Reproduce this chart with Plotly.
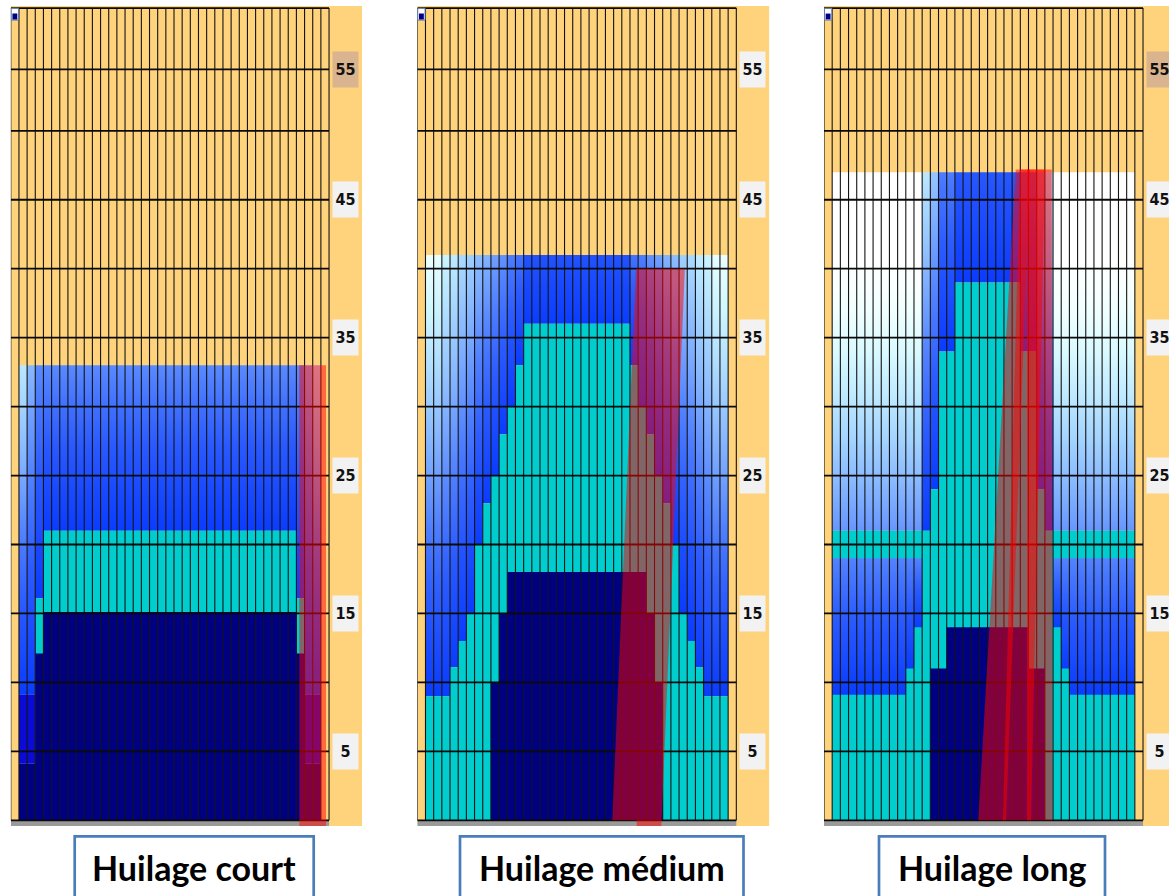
import plotly.graph_objects as go

# ------------------------------------------------------------------ data
PANEL_TITLES = ["Huilage court", "Huilage médium", "Huilage long"]
N_GRID_COLS = 39                      # lane columns (0 and 38 are the gutters)
DIST_MARKS = [5, 10, 15, 20, 25, 30, 35, 40, 45, 50, 54.45]
LANE_TOP_FT = 58.9
LABEL_FT = [5, 15, 25, 35, 45, 54.45]
LABEL_TEXT = ["5", "15", "25", "35", "45", "55"]

# --- Huilage court (boards 1..37)
court_oil_end = 33.0
court_shade_top = [0.72, 0.53] + [0.38] * 33 + [0.53, 0.72]
court_shade_bottom = [0.0] * 37
court_shade_floor = [9.1, 9.1, 16.1] + [21.0] * 31 + [16.1, 9.1, 9.1]
court_turq_top = [0, 0, 16.1] + [21.0] * 31 + [16.1, 0, 0]
court_navy_top = [4.1, 4.1, 12.1] + [15.1] * 31 + [12.1, 4.1, 4.1]
court_deep_bottom = [4.1, 4.1] + [None] * 33 + [4.1, 4.1]
court_deep_top = [9.1, 9.1] + [None] * 33 + [9.1, 9.1]
court_red_x = [[35.36, 38.63, 38.63, 35.36]]
court_red_y = [[33.0, 33.0, -0.45, -0.45]]

# --- Huilage médium
med_oil_end = 41.0
med_shade_top = ([0.91, 0.89, 0.78, 0.74, 0.66, 0.62, 0.55, 0.51, 0.45, 0.41, 0.34, 0.30]
                 + [0.15] * 13
                 + [0.30, 0.34, 0.41, 0.45, 0.51, 0.55, 0.62, 0.66, 0.74, 0.78, 0.89, 0.91])
med_shade_bottom = [0.0] * 37
med_turq_top = ([9, 9, 9, 11.1, 13, 15, 20, 23, 25, 28, 30, 33] + [36] * 13
                + [33, 30, 28, 25, 23, 20, 15, 13, 11.1, 9, 9, 9])
med_shade_floor = list(med_turq_top)
med_navy_top = [0] * 8 + [10, 15] + [18] * 17 + [15, 10] + [0] * 8
med_red_x = [[26.74, 32.71, 29.83, 26.82, 26.82, 23.84]]
med_red_y = [[40.0, 40.0, -0.41, -0.41, 0.0, 0.0]]

# --- Huilage long
long_oil_end = 47.0
long_turq_top = [21] * 11 + [21, 24, 34, 34] + [39] * 8 + [34, 34, 24, 21] + [21] * 10
long_shade_floor = list(long_turq_top)
long_shade_top = [1.25] * 11 + [0.72, 0.58, 0.34, 0.34] + [0.18] * 8 + [0.34, 0.34, 0.58, 0.72] + [1.25] * 10
long_shade_bottom = [0.42] * 11 + [0.0] * 16 + [0.42] * 10
long_navy_top = [0] * 12 + [11, 11] + [14] * 10 + [11, 11] + [0] * 11
long_low_bottom = [9.1] * 9 + [11, 14] + [None] * 16 + [14, 11] + [9.1] * 8
long_low_top = 19.0
long_red_x = [[23.44, 25.18, 22.25, 18.86],
              [23.96, 27.02, 25.31, 21.88],
              [24.82, 27.84, 27.93, 24.82]]
long_red_y = [[47.2, 47.2, 0.0, 0.0],
              [47.2, 47.2, 0.0, 0.0],
              [47.2, 47.2, 0.0, 0.0]]

# ------------------------------------------------------------------ styles
W, H = 1169, 896
ORANGE = "#ffd37c"
TURQ = "#00cdcd"
NAVY = "#000083"
DEEP = "#0b0bd6"
RED = "rgba(255,0,0,0.5)"
PANEL_LEFT_PX = [10.8, 417.3, 824.0]
COL_PX = [8.16, 8.18, 8.18]
LABEL_COLS = 4.04
Y_RANGE = [-0.413, 59.05]
Y_DOMAIN = [1 - 826 / H, 1 - 6 / H]
TOP55_FILL = ["#d9b48e", "#f2f2f2", "#d9b48e"]
BOX_PX = [(74.7, 313.7), (460.0, 743.5), (879.0, 1105.0)]

STOPS = [(0.0, (10, 60, 255)), (0.2, (42, 90, 255)), (0.35, (80, 128, 255)),
         (0.5, (128, 176, 255)), (0.65, (168, 216, 255)), (0.8, (208, 248, 255)),
         (0.9, (234, 255, 255)), (1.0, (255, 255, 255))]


def blue(v):
    v = max(0.0, min(1.0, v))
    for (a, ca), (b, cb) in zip(STOPS[:-1], STOPS[1:]):
        if v <= b:
            t = (v - a) / (b - a)
            return "rgb(%d,%d,%d)" % tuple(round(ca[i] + (cb[i] - ca[i]) * t) for i in range(3))
    return "rgb(255,255,255)"


def grad_scale(vb, vt, n=9):
    return [[i / (n - 1), blue(vb + (vt - vb) * i / (n - 1))] for i in range(n)]


panels = [
    dict(oil=court_oil_end, stop=court_shade_top, sbot=court_shade_bottom, floor=court_shade_floor,
         turq=court_turq_top, navy=court_navy_top, deep=(court_deep_bottom, court_deep_top),
         low=None, red=(court_red_x, court_red_y)),
    dict(oil=med_oil_end, stop=med_shade_top, sbot=med_shade_bottom, floor=med_shade_floor,
         turq=med_turq_top, navy=med_navy_top, deep=None, low=None, red=(med_red_x, med_red_y)),
    dict(oil=long_oil_end, stop=long_shade_top, sbot=long_shade_bottom, floor=long_shade_floor,
         turq=long_turq_top, navy=long_navy_top, deep=None, low=(long_low_bottom, long_low_top),
         red=(long_red_x, long_red_y)),
]

fig = go.Figure()
shapes, annotations = [], []


def runs(cols):
    """split sorted column list into contiguous runs"""
    out = []
    for c in cols:
        if out and out[-1][1] == c:
            out[-1][1] = c + 1
        else:
            out.append([c, c + 1])
    return out


def rect_path(cols, bottoms, tops):
    xs, ys = [], []
    for c in cols:
        xs += [c, c + 1, c + 1, c, c, None]
        ys += [bottoms[c], bottoms[c], tops[c], tops[c], bottoms[c], None]
    return xs, ys


for k, p in enumerate(panels):
    xa = "x" if k == 0 else "x%d" % (k + 1)
    left, w = PANEL_LEFT_PX[k], COL_PX[k]
    right_px = min(W, left + (N_GRID_COLS + LABEL_COLS) * w)
    xmax = (right_px - left) / w
    fig.update_layout(**{("xaxis" if k == 0 else "xaxis%d" % (k + 1)): dict(
        domain=[left / W, right_px / W], range=[0, xmax], visible=False,
        fixedrange=True, anchor="y")})

    cols = list(range(1, 38))
    idx = {c: c - 1 for c in cols}

    # background (orange lane + label strip) and grey foul bar
    shapes.append(dict(type="rect", xref=xa, yref="y", x0=0, x1=xmax, y0=Y_RANGE[0], y1=Y_RANGE[1],
                       fillcolor=ORANGE, line=dict(width=0), layer="below"))
    shapes.append(dict(type="rect", xref=xa, yref="y", x0=0, x1=N_GRID_COLS, y0=Y_RANGE[0], y1=0,
                       fillcolor="#9a9a9a", line=dict(width=0), layer="below"))

    # base oil gradient (grouped by identical parameters)
    groups = {}
    for c in cols:
        i = idx[c]
        key = (p["floor"][i], p["oil"], p["sbot"][i], p["stop"][i])
        groups.setdefault(key, []).append(c)
    for (fl, top, vb, vt), cl in groups.items():
        xs, ys = [], []
        for a, b in runs(cl):
            xs += [a, b, b, a, a, None]
            ys += [fl, fl, top, top, fl, None]
        fig.add_trace(go.Scatter(x=xs, y=ys, xaxis=xa, yaxis="y", mode="lines", line=dict(width=0),
                                 fill="toself", fillgradient=dict(type="vertical", colorscale=grad_scale(vb, vt),
                                                                  start=fl, stop=top),
                                 hoverinfo="skip", showlegend=False))

    # turquoise
    tc = [c for c in cols if p["turq"][idx[c]] > 0]
    xs, ys = rect_path(tc, {c: 0 for c in tc}, {c: p["turq"][idx[c]] for c in tc})
    fig.add_trace(go.Scatter(x=xs, y=ys, xaxis=xa, yaxis="y", mode="lines", line=dict(width=0),
                             fill="toself", fillcolor=TURQ, hoverinfo="skip", showlegend=False))

    # lower blue band (long pattern)
    if p["low"] is not None:
        lb, lt = p["low"]
        lg = {}
        for c in cols:
            b = lb[idx[c]]
            if b is not None:
                lg.setdefault(b, []).append(c)
        for b, cl in lg.items():
            xs, ys = [], []
            for a, e in runs(cl):
                xs += [a, e, e, a, a, None]
                ys += [b, b, lt, lt, b, None]
            fig.add_trace(go.Scatter(x=xs, y=ys, xaxis=xa, yaxis="y", mode="lines", line=dict(width=0),
                                     fill="toself", fillgradient=dict(type="vertical",
                                                                      colorscale=grad_scale(0.0, 0.36),
                                                                      start=b, stop=lt),
                                     hoverinfo="skip", showlegend=False))

    # navy
    nc = [c for c in cols if p["navy"][idx[c]] > 0]
    xs, ys = rect_path(nc, {c: 0 for c in nc}, {c: p["navy"][idx[c]] for c in nc})
    fig.add_trace(go.Scatter(x=xs, y=ys, xaxis=xa, yaxis="y", mode="lines", line=dict(width=0),
                             fill="toself", fillcolor=NAVY, hoverinfo="skip", showlegend=False))

    # deep blue band (court pattern)
    if p["deep"] is not None:
        db, dt = p["deep"]
        dc = [c for c in cols if db[idx[c]] is not None]
        xs, ys = rect_path(dc, {c: db[idx[c]] for c in dc}, {c: dt[idx[c]] for c in dc})
        fig.add_trace(go.Scatter(x=xs, y=ys, xaxis=xa, yaxis="y", mode="lines", line=dict(width=0),
                                 fill="toself", fillcolor=DEEP, hoverinfo="skip", showlegend=False))

    # grid
    gx, gy = [], []
    for c in range(N_GRID_COLS + 1):
        gx += [c, c, None]
        gy += [0, LANE_TOP_FT, None]
    fig.add_trace(go.Scatter(x=gx, y=gy, xaxis=xa, yaxis="y", mode="lines",
                             line=dict(color="#141414", width=1.1), hoverinfo="skip", showlegend=False))
    hx, hy = [], []
    for d in DIST_MARKS + [0, LANE_TOP_FT]:
        hx += [0, N_GRID_COLS, None]
        hy += [d, d, None]
    fig.add_trace(go.Scatter(x=hx, y=hy, xaxis=xa, yaxis="y", mode="lines",
                             line=dict(color="#0a0a0a", width=1.8), hoverinfo="skip", showlegend=False))

    # small marker at the top-left corner
    shapes.append(dict(type="rect", xref=xa, yref="y", x0=0.05, x1=0.95, y0=58.03, y1=58.88,
                       fillcolor="white", line=dict(color="#5a78b0", width=1), layer="above"))
    shapes.append(dict(type="rect", xref=xa, yref="y", x0=0.2, x1=0.8, y0=58.08, y1=58.5,
                       fillcolor=NAVY, line=dict(width=0), layer="above"))

    # red ball-path overlays
    rx, ry = p["red"]
    for px_, py_ in zip(rx, ry):
        path = "M " + " L ".join("%g,%g" % (a, b) for a, b in zip(px_, py_)) + " Z"
        shapes.append(dict(type="path", xref=xa, yref="y", path=path, fillcolor=RED,
                           line=dict(width=0), layer="above"))

    # distance labels
    for ft, txt in zip(LABEL_FT, LABEL_TEXT):
        annotations.append(dict(xref=xa, yref="y", x=41.0, y=ft, text=txt, showarrow=False,
                                bgcolor=(TOP55_FILL[k] if txt == "55" else "#f2f2f2"),
                                width=25, height=35, borderpad=0,
                                font=dict(family="Liberation Sans Narrow, Arial Narrow, DejaVu Sans Condensed, sans-serif",
                                          size=16, color="#111111", weight="bold")))

    # caption box
    bx0, bx1 = BOX_PX[k]
    shapes.append(dict(type="rect", xref="paper", yref="paper", x0=bx0 / W, x1=bx1 / W,
                       y0=1 - 906 / H, y1=1 - 836.3 / H, fillcolor="white",
                       line=dict(color="#4a7ebb", width=2.7), layer="above"))
    annotations.append(dict(xref="paper", yref="paper", x=(bx0 + bx1) / 2 / W, y=1 - 867 / H,
                            text=PANEL_TITLES[k], showarrow=False, xanchor="center", yanchor="middle",
                            font=dict(family="Lato, Carlito, Open Sans, sans-serif", size=34,
                                      color="black", weight="bold")))

fig.update_layout(
    width=W, height=H, margin=dict(l=0, r=0, t=0, b=0),
    paper_bgcolor="white", plot_bgcolor="rgba(0,0,0,0)", showlegend=False,
    yaxis=dict(domain=Y_DOMAIN, range=Y_RANGE, visible=False, fixedrange=True, anchor="x"),
    shapes=shapes, annotations=annotations,
)

fig.write_html("out.html", config={"displayModeBar": False},
               post_script="document.body.style.margin='0px';document.body.style.overflow='hidden';")
